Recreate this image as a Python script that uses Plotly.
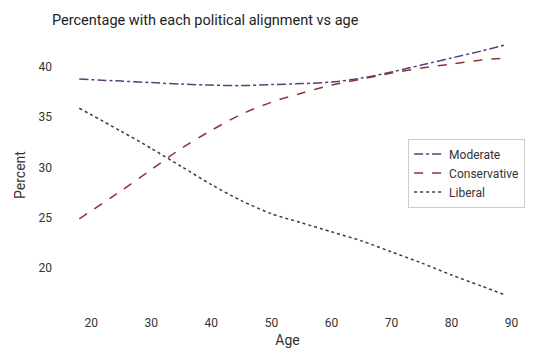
import plotly.graph_objects as go

ages = [18, 25, 30, 35, 40, 45, 50, 55, 60, 65, 70, 75, 80, 85, 89]
moderate = [38.8, 38.6, 38.45, 38.3, 38.2, 38.15, 38.25, 38.35, 38.5, 38.9, 39.5, 40.2, 40.9, 41.6, 42.2]
conservative = [24.9, 27.7, 29.8, 31.9, 33.7, 35.3, 36.5, 37.4, 38.2, 38.8, 39.4, 39.9, 40.3, 40.7, 40.9]
liberal = [35.9, 33.6, 31.9, 30.1, 28.3, 26.7, 25.4, 24.5, 23.6, 22.7, 21.6, 20.5, 19.3, 18.2, 17.3]

x_ticks = [20, 30, 40, 50, 60, 70, 80, 90]
y_ticks = [20, 25, 30, 35, 40]

fig = go.Figure()
fig.add_trace(go.Scatter(x=ages, y=moderate, name="Moderate", mode="lines",
                         line=dict(color="#5e3c7e", width=1.5, dash="dashdot", shape="spline", smoothing=0.8)))
fig.add_trace(go.Scatter(x=ages, y=conservative, name="Conservative", mode="lines",
                         line=dict(color="#8b3535", width=1.5, dash="dash", shape="spline", smoothing=0.8)))
fig.add_trace(go.Scatter(x=ages, y=liberal, name="Liberal", mode="lines",
                         line=dict(color="#2f3e55", width=1.5, dash="dot", shape="spline", smoothing=0.8)))

fig.update_layout(
    width=540, height=360,
    margin=dict(l=42, r=28, t=32, b=58),
    paper_bgcolor="white", plot_bgcolor="white",
    font=dict(family="Roboto", size=12, color="#333333"),
    title=dict(text="Percentage with each political alignment vs age",
               x=44/540, xanchor="left", y=1 - 12/360, yanchor="middle",
               font=dict(family="Roboto", size=14.5, color="#222222")),
    xaxis=dict(range=[13.96, 91.4], tickvals=x_ticks, showgrid=False, zeroline=False,
               showline=False, ticks="", ticklabelstandoff=4,
               title=dict(text="Age", standoff=6)),
    yaxis=dict(range=[15.82, 42.69], tickvals=y_ticks, showgrid=False, zeroline=False,
               showline=False, ticks="", ticklabelstandoff=2,
               title=dict(text="Percent", standoff=9)),
    legend=dict(x=1.011, xanchor="right", y=0.635, yanchor="top",
                bgcolor="white", bordercolor="#cccccc", borderwidth=1,
                font=dict(size=12, color="#333333")),
    showlegend=True,
)

fig.write_html("out.html")
